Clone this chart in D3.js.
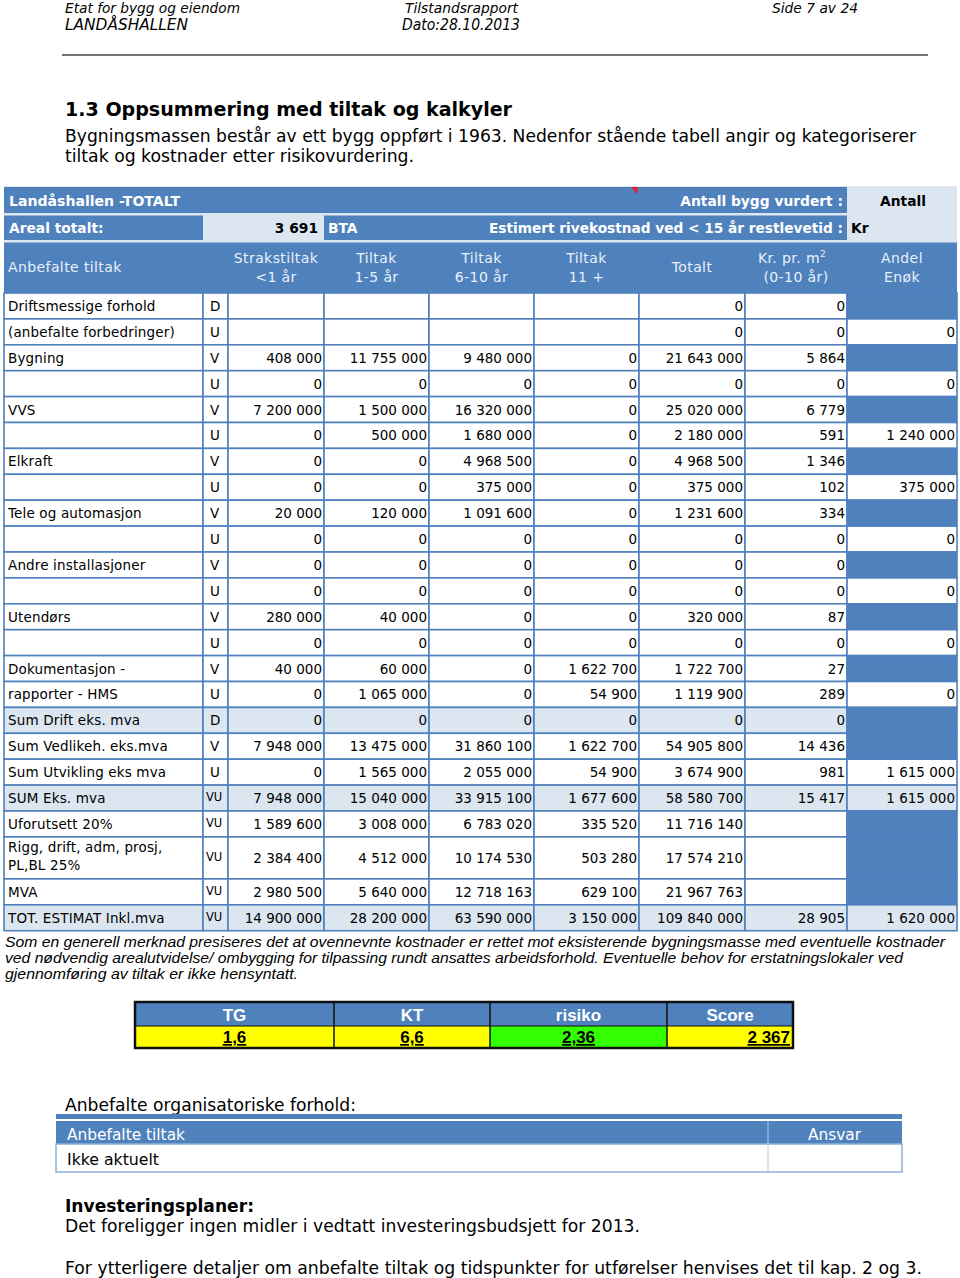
<!DOCTYPE html>
<html><head><meta charset="utf-8">
<script src="https://cdn.jsdelivr.net/npm/d3@7"></script>
<style>body{margin:0;background:#fff}svg{display:block}</style>
</head><body>
<script>
// ---------------- DATA ----------------
const rowLabels = ["Driftsmessige forhold","(anbefalte forbedringer)","Bygning","","VVS","","Elkraft","","Tele og automasjon","","Andre installasjoner","","Utendørs","","Dokumentasjon -","rapporter - HMS","Sum Drift eks. mva","Sum Vedlikeh. eks.mva","Sum Utvikling eks mva","SUM Eks. mva","Uforutsett 20%","Rigg, drift, adm, prosj,\nPL,BL 25%","MVA","TOT. ESTIMAT Inkl.mva"];
const rowCodes = ["D","U","V","U","V","U","V","U","V","U","V","U","V","U","V","U","D","V","U","VU","VU","VU","VU","VU"];
const strakstiltak = [null,null,408000,0,7200000,0,0,0,20000,0,0,0,280000,0,40000,0,0,7948000,0,7948000,1589600,2384400,2980500,14900000];
const tiltak1_5 = [null,null,11755000,0,1500000,500000,0,0,120000,0,0,0,40000,0,60000,1065000,0,13475000,1565000,15040000,3008000,4512000,5640000,28200000];
const tiltak6_10 = [null,null,9480000,0,16320000,1680000,4968500,375000,1091600,0,0,0,0,0,0,0,0,31860100,2055000,33915100,6783020,10174530,12718163,63590000];
const tiltak11 = [null,null,0,0,0,0,0,0,0,0,0,0,0,0,1622700,54900,0,1622700,54900,1677600,335520,503280,629100,3150000];
const totalt = [0,0,21643000,0,25020000,2180000,4968500,375000,1231600,0,0,0,320000,0,1722700,1119900,0,54905800,3674900,58580700,11716140,17574210,21967763,109840000];
const krPrM2 = [0,0,5864,0,6779,591,1346,102,334,0,0,0,87,0,27,289,0,14436,981,15417,null,null,null,28905];
const andelEnok = [null,0,null,0,null,1240000,null,375000,null,0,null,0,null,0,null,0,null,null,1615000,1615000,null,null,null,1620000];
const summaryRows = ["Sum Drift eks. mva","SUM Eks. mva","TOT. ESTIMAT Inkl.mva"];
const columnHeaders = [["Strakstiltak","<1 år"],["Tiltak","1-5 år"],["Tiltak","6-10 år"],["Tiltak","11 +"],["Totalt"],["Kr. pr. m²","(0-10 år)"],["Andel","Enøk"]];
const arealTotalt = 3691;
const tgLabels = ["TG","KT","risiko","Score"];
const tgValues = [1.6, 6.6, 2.36, 2367];
const tgFormats = [",.1f", ",.1f", ",.2f", ",d"];

// ---------------- LAYOUT ----------------
const W = 960, H = 1278;
const BLUE = "#4f81bd", LIGHT = "#dce6f1";
const VERD = "'DejaVu Sans', Verdana, sans-serif";
const SANS = "'Liberation Sans', Arial, sans-serif";
const NARROW = "'Liberation Sans Narrow', 'Liberation Sans', Arial, sans-serif";
const loc = d3.formatLocale({decimal:",", thousands:" ", grouping:[3], currency:["",""]});
const fmt = loc.format(",d");

const svg = d3.select("body").append("svg").attr("width", W).attr("height", H)
  .style("background", "#fff");

function txt(x, y, s, o = {}) {
  const t = svg.append("text").attr("x", x).attr("y", y).text(s)
    .attr("font-family", o.family || VERD)
    .attr("font-size", o.size || 13.5)
    .attr("font-weight", o.weight || "normal")
    .attr("font-style", o.style || "normal")
    .attr("text-anchor", o.anchor || "start")
    .attr("fill", o.fill || "#000");
  if (o.len) t.attr("textLength", o.len).attr("lengthAdjust", "spacingAndGlyphs");
  if (o.deco) t.attr("text-decoration", o.deco);
  if (o.ls) t.attr("letter-spacing", o.ls);
  return t;
}

// ---- page header ----
txt(65, 13, "Etat for bygg og eiendom", {size: 14.5, style: "italic", len: 175});
txt(65, 30, "LANDÅSHALLEN", {size: 15.5, style: "italic", len: 123});
txt(405, 13, "Tilstandsrapport", {size: 14.5, style: "italic", len: 113});
txt(402, 30, "Dato:28.10.2013", {size: 15, style: "italic", len: 118});
txt(772, 13, "Side 7 av 24", {size: 14.5, style: "italic", len: 86});
svg.append("line").attr("x1", 62).attr("x2", 928).attr("y1", 55).attr("y2", 55)
  .attr("stroke", "#444").attr("stroke-width", 1.5);

txt(65, 116, "1.3  Oppsummering med tiltak og kalkyler", {size: 20, weight: "bold", len: 447});
txt(65, 142, "Bygningsmassen består av ett bygg oppført i 1963. Nedenfor stående tabell angir og kategoriserer", {size: 17.5, len: 851});
txt(65, 162, "tiltak og kostnader etter risikovurdering.", {size: 17.5, len: 349});

// ---- main table ----
const colKeys = ["label","code","straks","t15","t610","t11","total","krm2","enok"];
const colL = d3.scaleOrdinal().domain(colKeys).range([4,203,228,324,429,534,639,745,847]);
const colR = d3.scaleOrdinal().domain(colKeys).range([203,228,324,429,534,639,745,847,957]);
const valueCols = {straks: strakstiltak, t15: tiltak1_5, t610: tiltak6_10, t11: tiltak11, total: totalt, krm2: krPrM2, enok: andelEnok};

const rowIdx = d3.range(rowLabels.length);
const rowH = rowIdx.map(i => rowLabels[i].includes("\n") ? 42 : 25.9);
const tops = []; let acc = 293;
rowIdx.forEach(i => { tops.push(acc); acc += rowH[i]; });
const rowTop = d3.scaleOrdinal().domain(rowIdx).range(tops);

// header background
svg.append("rect").attr("x", 4).attr("y", 186).attr("width", 953).attr("height", 107).attr("fill", LIGHT);
// header row 1
svg.append("rect").attr("x", 4).attr("y", 187).attr("width", 843).attr("height", 26).attr("fill", BLUE);
svg.append("polygon").attr("points", "631,187 638,187 637,194").attr("fill", "#e0202a");
const HB = {weight: "bold", fill: "#fff", size: 13.8};
txt(9, 206, "Landåshallen -TOTALT", Object.assign({len: 171}, HB));
txt(843, 206, "Antall bygg vurdert :", Object.assign({anchor: "end"}, HB));
txt(903, 206, "Antall", {weight: "bold", anchor: "middle", size: 13.8});
// header row 2
svg.append("rect").attr("x", 4).attr("y", 215.5).attr("width", 199).attr("height", 24.5).attr("fill", BLUE);
svg.append("rect").attr("x", 324).attr("y", 215.5).attr("width", 523).attr("height", 24.5).attr("fill", BLUE);
txt(9, 233, "Areal totalt:", HB);
txt(318, 233, fmt(arealTotalt), {weight: "bold", anchor: "end", size: 13.8});
txt(328, 233, "BTA", HB);
txt(843, 233, "Estimert rivekostnad ved < 15 år restlevetid :", Object.assign({anchor: "end", len: 354}, HB));
txt(851, 233, "Kr", {weight: "bold", size: 13.8});
// header row 3
svg.append("rect").attr("x", 4).attr("y", 242.5).attr("width", 953).attr("height", 51).attr("fill", BLUE);
const HDR = "#eaf0f8";
const H3 = {fill: HDR, size: 14, ls: 0.4};
txt(8, 272, "Anbefalte tiltak", H3);
colKeys.slice(2).forEach((k, j) => {
  const lines = columnHeaders[j];
  const cx = (colL(k) + colR(k)) / 2;
  if (lines.length === 1) {
    txt(cx, 272, lines[0], Object.assign({anchor: "middle"}, H3));
  } else {
    lines.forEach((ln, li) => {
      const y = li === 0 ? 263 : 282;
      if (ln.includes("²")) {
        const t = txt(cx - 4, y, "", Object.assign({anchor: "middle"}, H3));
        t.append("tspan").text(ln.replace("²", ""));
        t.append("tspan").text("2").attr("font-size", 9).attr("dy", -6);
      } else {
        txt(cx, y, ln, Object.assign({anchor: "middle"}, H3));
      }
    });
  }
});

// data cells
rowIdx.forEach(i => {
  const y = rowTop(i), h = rowH[i];
  const shaded = summaryRows.includes(rowLabels[i]);
  colKeys.forEach(k => {
    let fill = shaded ? LIGHT : "#fff";
    if (k === "enok" && andelEnok[i] === null) fill = BLUE;
    svg.append("rect").attr("x", colL(k)).attr("y", y)
      .attr("width", colR(k) - colL(k)).attr("height", h)
      .attr("fill", fill).attr("stroke", BLUE).attr("stroke-width", 1.6);
  });
  const cy = y + h / 2 + 5;
  const parts = rowLabels[i].split("\n");
  if (parts.length === 1) txt(8, cy, parts[0], {ls: 0.15});
  else parts.forEach((p, pi) => txt(8, y + 15 + pi * 18, p, {ls: 0.15}));
  const code = rowCodes[i];
  if (code.length === 1) txt(210, cy, code);
  else txt(206, cy - 2, code, {size: 11.5});
  Object.keys(valueCols).forEach(k => {
    const v = valueCols[k][i];
    if (v !== null) txt(colR(k) - 2, cy, fmt(v), {anchor: "end"});
  });
});

// footnote
const FN = {size: 14.5, style: "italic", family: SANS};
txt(5, 946.5, "Som en generell merknad presiseres det at ovennevnte kostnader er rettet mot eksisterende bygningsmasse med  eventuelle kostnader", Object.assign({len: 940}, FN));
txt(5, 962.5, "ved nødvendig arealutvidelse/ ombygging for tilpassing rundt ansattes arbeidsforhold. Eventuelle behov for erstatningslokaler ved", Object.assign({len: 898}, FN));
txt(5, 979, "gjennomføring av tiltak er ikke hensyntatt.", Object.assign({len: 293}, FN));

// ---- TG / KT table ----
const tgEdges = [135, 334, 490, 667, 793];
const tgX = d3.scaleOrdinal().domain(tgLabels).range(tgEdges.slice(0, 4));
const tgXr = d3.scaleOrdinal().domain(tgLabels).range(tgEdges.slice(1));
const tgFill = ["#ffff00", "#ffff00", "#33ff00", "#ffff00"];
tgLabels.forEach((lab, j) => {
  const x0 = tgX(lab), x1 = tgXr(lab);
  svg.append("rect").attr("x", x0).attr("y", 1003).attr("width", x1 - x0).attr("height", 23).attr("fill", BLUE);
  svg.append("rect").attr("x", x0).attr("y", 1026).attr("width", x1 - x0).attr("height", 21).attr("fill", tgFill[j]);
  txt((x0 + x1) / 2, 1021, lab, {family: NARROW, size: 17, weight: "bold", fill: "#fff", anchor: "middle"});
  const s = loc.format(tgFormats[j])(tgValues[j]);
  if (j === 3) txt(x1 - 3, 1043, s, {family: NARROW, size: 17, weight: "bold", anchor: "end", deco: "underline"});
  else txt((x0 + x1) / 2, 1043, s, {family: NARROW, size: 17, weight: "bold", anchor: "middle", deco: "underline"});
});
tgEdges.slice(1, 4).forEach(x => svg.append("line").attr("x1", x).attr("x2", x).attr("y1", 1002).attr("y2", 1048).attr("stroke", "#111").attr("stroke-width", 1.5));
svg.append("line").attr("x1", 135).attr("x2", 793).attr("y1", 1026).attr("y2", 1026).attr("stroke", "#111").attr("stroke-width", 1);
svg.append("rect").attr("x", 135).attr("y", 1002).attr("width", 658).attr("height", 46)
  .attr("fill", "none").attr("stroke", "#111").attr("stroke-width", 2.5);

// ---- organisational table ----
txt(65, 1111, "Anbefalte organisatoriske forhold:", {size: 17, len: 291});
svg.append("rect").attr("x", 56).attr("y", 1114).attr("width", 846).attr("height", 5).attr("fill", BLUE);
svg.append("rect").attr("x", 56).attr("y", 1121).attr("width", 846).attr("height", 23).attr("fill", BLUE);
svg.append("rect").attr("x", 56).attr("y", 1144).attr("width", 846).attr("height", 28)
  .attr("fill", "#fff").attr("stroke", "#8fb0d8").attr("stroke-width", 1.5);
svg.append("line").attr("x1", 768).attr("x2", 768).attr("y1", 1121).attr("y2", 1172).attr("stroke", "#b8c8dc").attr("stroke-width", 1);
txt(67, 1140, "Anbefalte tiltak", {size: 16, fill: "#fff", len: 118});
txt(808, 1140, "Ansvar", {size: 16, fill: "#fff", len: 53});
txt(67, 1165, "Ikke aktuelt", {size: 16, len: 92});

// ---- investment ----
txt(65, 1212, "Investeringsplaner:", {size: 17, weight: "bold", len: 189});
txt(65, 1232, "Det foreligger ingen midler i vedtatt investeringsbudsjett for 2013.", {size: 17.5, len: 575});
txt(65, 1274, "For ytterligere detaljer om anbefalte tiltak og tidspunkter for utførelser henvises det til kap. 2 og 3.", {size: 17.5, len: 857});
</script>
</body></html>
